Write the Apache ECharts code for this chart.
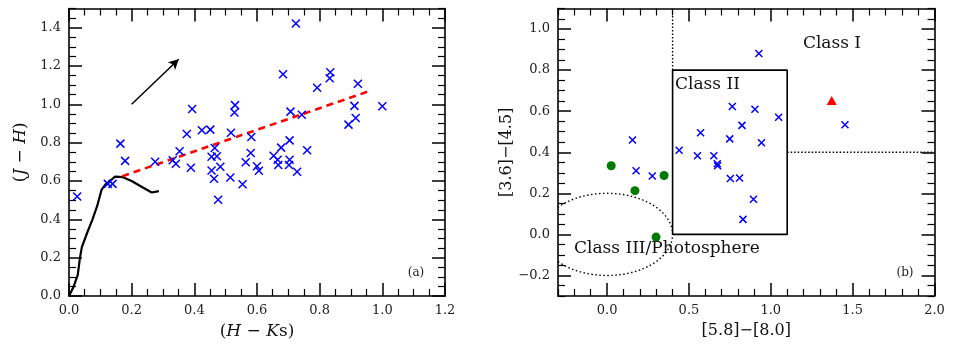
<!DOCTYPE html>
<html>
<head>
<meta charset="utf-8">
<script src="https://cdn.jsdelivr.net/npm/echarts@6/dist/echarts.min.js"></script>
<style>html,body{margin:0;padding:0;background:#fff}#c{width:954px;height:354px}</style>
</head>
<body>
<div id="c"></div>
<script>
// ---------- Panel (a): (J-H) vs (H-Ks) ----------
const aCrossHK = [0.026,0.124,0.139,0.164,0.179,0.275,0.331,0.341,0.353,0.376,0.393,0.389,0.424,0.451,0.465,0.455,0.472,0.455,0.483,0.463,0.476,0.517,0.530,0.528,0.515,0.554,0.564,0.580,0.582,0.600,0.606,0.653,0.666,0.668,0.677,0.683,0.704,0.704,0.702,0.707,0.724,0.728,0.743,0.760,0.792,0.834,0.832,0.922,0.911,0.915,0.892,1.000];
const aCrossJH = [0.519,0.585,0.585,0.795,0.705,0.700,0.708,0.690,0.755,0.845,0.976,0.669,0.865,0.868,0.772,0.727,0.729,0.655,0.674,0.612,0.502,0.852,0.996,0.957,0.618,0.583,0.698,0.746,0.830,0.677,0.653,0.732,0.711,0.683,0.774,1.157,0.812,0.711,0.683,0.962,1.422,0.648,0.946,0.760,1.087,1.167,1.136,1.107,0.992,0.929,0.894,0.990];
const locusHK = [0,0.015,0.028,0.035,0.041,0.058,0.075,0.090,0.104,0.117,0.130,0.147,0.172,0.200,0.226,0.264,0.287];
const locusJH = [0,0.050,0.110,0.200,0.255,0.330,0.400,0.470,0.555,0.583,0.600,0.623,0.620,0.600,0.575,0.540,0.547];
const ctts = [[0.17,0.625],[0.96,1.07]];
const reddening = [[0.20,1.00],[0.35,1.235]];
const aXTicks = [0,0.2,0.4,0.6,0.8,1.0,1.2];
const aYTicks = [0,0.2,0.4,0.6,0.8,1.0,1.2,1.4];

// ---------- Panel (b): [3.6]-[4.5] vs [5.8]-[8.0] ----------
const bCrossX = [0.155,0.177,0.276,0.440,0.571,0.552,0.652,0.673,0.675,0.765,0.824,0.749,0.753,0.809,0.830,0.927,0.903,1.048,0.943,0.894,1.453];
const bCrossY = [0.460,0.310,0.284,0.410,0.495,0.383,0.383,0.344,0.334,0.623,0.531,0.465,0.272,0.275,0.073,0.881,0.609,0.570,0.446,0.171,0.534];
const bDotX = [0.025,0.348,0.170,0.299];
const bDotY = [0.334,0.287,0.213,-0.013];
const bTriX = [1.372];
const bTriY = [0.652];
const classIIBox = [[0.4,0],[1.1,0],[1.1,0.8],[0.4,0.8],[0.4,0]];
const classIVert = [[0.4,0.8],[0.4,1.1]];
const classIHoriz = [[1.1,0.4],[2.0,0.4]];
const classIIIEllipse = [0, 0, 0.4, 0.2]; // centre x, centre y, semi-axis x, semi-axis y
const bXTicks = [0,0.5,1.0,1.5,2.0];
const bYTicks = [-0.2,0,0.2,0.4,0.6,0.8,1.0];

const FONT = 'DejaVu Serif';
const zip = (a,b) => a.map((v,i)=>[v,b[i]]);
function steps(min,max,step){const r=[];for(let v=min;v<=max+1e-9;v+=step){r.push(Math.round(v*1000)/1000);}return r;}
function minorsOf(min,max,step,majors){return steps(min,max,step).filter(v=>!majors.some(m=>Math.abs(m-v)<1e-6));}
const fmt = v => { const s = Math.abs(v).toFixed(1); return v < -1e-9 ? '\u2212' + s : s; };

function axesFor(dim, grid, min, max, majors, minors, name, nameGap){
  const base = {type:'value', gridIndex:grid, min:min, max:max, splitLine:{show:false}};
  const mainPos = dim==='x' ? 'bottom' : 'left';
  const oppPos = dim==='x' ? 'top' : 'right';
  const line = {show:true, onZero:false, lineStyle:{color:'#000', width:1.6}};
  const noLine = {show:false, onZero:false};
  const tickMaj = {show:true, inside:true, length:13, customValues:majors, lineStyle:{color:'#000', width:1.5}};
  const tickMin = {show:true, inside:true, length:7, customValues:minors, lineStyle:{color:'#000', width:1.2}};
  return [
    Object.assign({}, base, {position:mainPos, axisLine:line, axisTick:tickMaj,
      axisLabel:{show:true, customValues:majors, formatter:fmt, margin:8, color:'#222', fontFamily:FONT, fontSize:13},
      name:name, nameLocation:'middle', nameGap:nameGap, nameRotate: dim==='y'?90:0,
      nameTextStyle:{color:'#111', fontFamily:FONT, fontSize:16,
        rich:{n:{fontFamily:FONT,fontSize:17,color:'#111'}, i:{fontFamily:FONT,fontSize:17,fontStyle:'italic',color:'#111'}}}}),
    Object.assign({}, base, {position:mainPos, axisLine:noLine, axisTick:tickMin, axisLabel:{show:false}}),
    Object.assign({}, base, {position:oppPos, axisLine:line, axisTick:tickMaj, axisLabel:{show:false}}),
    Object.assign({}, base, {position:oppPos, axisLine:noLine, axisTick:tickMin, axisLabel:{show:false}})
  ];
}

const xAxes = [].concat(
  axesFor('x',0,0,1.2,aXTicks,minorsOf(0,1.2,0.05,aXTicks),'{n|(}{i|H}{n| \u2212 }{i|K}{n|s)}',27),
  axesFor('x',1,-0.3,2.0,bXTicks,minorsOf(-0.3,2.0,0.1,bXTicks),'[5.8]\u2212[8.0]',27)
);
const yAxes = [].concat(
  axesFor('y',0,0,1.5,aYTicks,minorsOf(0,1.5,0.05,aYTicks),'{n|(}{i|J}{n| \u2212 }{i|H}{n|)}',40),
  axesFor('y',1,-0.3,1.1,bYTicks,minorsOf(-0.3,1.1,0.05,bYTicks),'[3.6]\u2212[4.5]',40)
);

const crossSym = 'path://M0,0L10,10M10,0L0,10';
const option = {
  animation:false,
  textStyle:{fontFamily:FONT},
  grid:[
    {left:69, right:509, top:8.5, bottom:58, containLabel:false},
    {left:558, right:19.5, top:8.5, bottom:58, containLabel:false}
  ],
  xAxis:xAxes, yAxis:yAxes,
  series:[
    {type:'line', xAxisIndex:0, yAxisIndex:0, data:zip(locusHK,locusJH), showSymbol:false, symbol:'none', smooth:false,
     lineStyle:{color:'#000', width:2.2}, silent:true, z:3,
     markLine:{silent:true, symbol:['none','arrow'], symbolSize:[8,10], label:{show:false},
       lineStyle:{color:'#000', width:1.5, type:'solid'},
       data:[[{coord:reddening[0]},{coord:reddening[1]}]]}},
    {type:'line', xAxisIndex:0, yAxisIndex:0, data:ctts, symbol:'none', lineStyle:{color:'#ff0000', width:2.6, type:[7,5]}, silent:true, z:3},
    {type:'scatter', xAxisIndex:0, yAxisIndex:0, data:zip(aCrossHK,aCrossJH), symbol:crossSym, symbolSize:8,
     itemStyle:{color:'transparent', borderColor:'#0000ff', borderWidth:1.5, opacity:1}, silent:true, z:4},
    // panel b
    {type:'line', xAxisIndex:4, yAxisIndex:4, data:classIIBox, symbol:'none', lineStyle:{color:'#000', width:1.6}, silent:true, z:2},
    {type:'line', xAxisIndex:4, yAxisIndex:4, data:classIVert, symbol:'none', lineStyle:{color:'#000', width:1.4, type:[1.5,2]}, silent:true, z:2},
    {type:'line', xAxisIndex:4, yAxisIndex:4, data:classIHoriz, symbol:'none', lineStyle:{color:'#000', width:1.4, type:[1.5,2]}, silent:true, z:2},
    {type:'custom', xAxisIndex:4, yAxisIndex:4, data:[classIIIEllipse], silent:true, z:2,
     renderItem:function(params, api){
       const cx=api.value(0), cy=api.value(1), rx=api.value(2), ry=api.value(3);
       const xmin=-0.3; const lim=Math.acos(Math.max(-1,(xmin-cx)/rx));
       const pts=[]; const n=120;
       for(let k=0;k<=n;k++){const t=-lim+2*lim*k/n; pts.push(api.coord([cx+rx*Math.cos(t), cy+ry*Math.sin(t)]));}
       return {type:'polyline', shape:{points:pts}, style:{fill:null, stroke:'#000', lineWidth:1.4, lineDash:[1.5,2.5]}};
     }},
    {type:'scatter', xAxisIndex:4, yAxisIndex:4, data:zip(bCrossX,bCrossY), symbol:crossSym, symbolSize:7,
     itemStyle:{color:'transparent', borderColor:'#0000ff', borderWidth:1.5, opacity:1}, silent:true, z:4},
    {type:'scatter', xAxisIndex:4, yAxisIndex:4, data:zip(bDotX,bDotY), symbol:'circle', symbolSize:9,
     itemStyle:{color:'#007a00', opacity:1}, silent:true, z:4},
    {type:'scatter', xAxisIndex:4, yAxisIndex:4, data:zip(bTriX,bTriY), symbol:'triangle', symbolSize:[10,9],
     itemStyle:{color:'#ff0000', opacity:1}, silent:true, z:4}
  ],
  graphic:[
    {type:'text', x:416, y:273, style:{text:'(a)', font:'12px "DejaVu Serif"', fill:'#222', align:'center', verticalAlign:'middle'}},
    {type:'text', x:905, y:273, style:{text:'(b)', font:'12px "DejaVu Serif"', fill:'#222', align:'center', verticalAlign:'middle'}},
    {type:'text', x:832, y:44, style:{text:'Class I', font:'17px "DejaVu Serif"', fill:'#111', align:'center', verticalAlign:'middle'}},
    {type:'text', x:675, y:85, style:{text:'Class II', font:'17px "DejaVu Serif"', fill:'#111', align:'left', verticalAlign:'middle'}},
    {type:'text', x:574, y:249, style:{text:'Class III/Photosphere', font:'17px "DejaVu Serif"', fill:'#111', align:'left', verticalAlign:'middle'}}
  ]
};
const chart = echarts.init(document.getElementById('c'), null, {renderer:'canvas'});
chart.setOption(option);
</script>
</body>
</html>
